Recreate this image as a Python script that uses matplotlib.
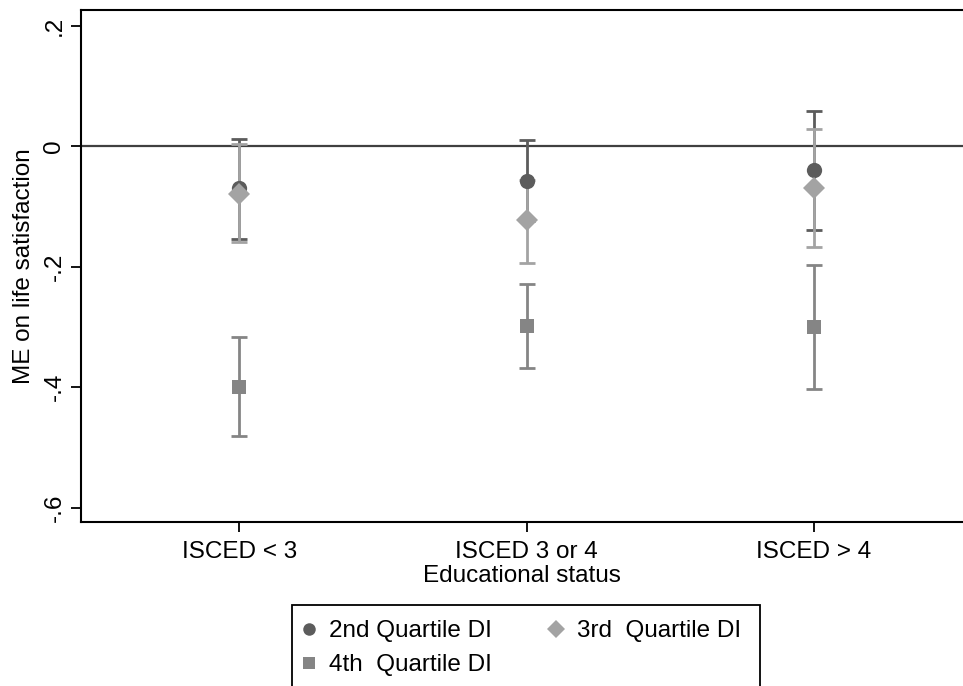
import numpy as np
import matplotlib.pyplot as plt
from matplotlib.patches import Rectangle
from matplotlib.lines import Line2D

plt.rcParams['font.family'] = ['Liberation Sans', 'DejaVu Sans']

groups = ['ISCED < 3', 'ISCED 3 or 4', 'ISCED > 4']
series = ['2nd Quartile DI', '3rd  Quartile DI', '4th  Quartile DI']

# marginal effects and 95% CI bounds per quartile
me_q2 = [-0.070, -0.058, -0.040]
lo_q2 = [-0.155, -0.124, -0.139]
hi_q2 = [0.011, 0.010, 0.058]

me_q3 = [-0.080, -0.123, -0.070]
lo_q3 = [-0.160, -0.195, -0.168]
hi_q3 = [0.003, -0.057, 0.028]

me_q4 = [-0.400, -0.299, -0.300]
lo_q4 = [-0.481, -0.369, -0.403]
hi_q4 = [-0.317, -0.229, -0.198]

yticks = [0.2, 0.0, -0.2, -0.4, -0.6]
ytick_labels = ['.2', '0', '-.2', '-.4', '-.6']

colors = ['#5c5c5c', '#a3a3a3', '#858585']
markers = ['o', 'D', 's']

fig = plt.figure(figsize=(9.63, 6.86), dpi=100)
ax = fig.add_axes([80.7 / 963, 1 - 521.7 / 686, 1 - 80.7 / 963, (521.7 - 10) / 686])

x = np.arange(1, len(groups) + 1)
data = [(me_q2, lo_q2, hi_q2), (me_q3, lo_q3, hi_q3), (me_q4, lo_q4, hi_q4)]

ax.axhline(0, color='#404040', lw=1.6, zorder=1)

# all CI bars first, markers on top
for (me, lo, hi), c in zip(data, colors):
    me, lo, hi = map(np.array, (me, lo, hi))
    ax.errorbar(x, me, yerr=[me - lo, hi - me], fmt='none', ecolor=c,
                elinewidth=2, capsize=6, capthick=2, zorder=2)

for (me, lo, hi), c, m, s in zip(data, colors, markers, [11, 11, 10.5]):
    ax.plot(x, me, linestyle='none', marker=m, color=c, markersize=s,
            markeredgewidth=0, zorder=3)

ax.set_xlim(1 - (239.5 - 80.7) / 287.3, 3 + (963 - 814) / 287.3)
ax.set_ylim(-(521.7 - 146) / 602.5, (146 - 10) / 602.5)

ax.set_xticks(x)
ax.set_xticklabels(groups, fontsize=17.5)
ax.set_yticks(yticks)
ax.set_yticklabels(ytick_labels, fontsize=17.5, rotation=90, va='center')
ax.tick_params(axis='both', length=7, width=1.3, color='black')
ax.tick_params(axis='x', pad=7)
ax.tick_params(axis='y', pad=4)

for sp in ['left', 'bottom', 'top']:
    ax.spines[sp].set_linewidth(1.5)
ax.spines['right'].set_visible(False)

ax.set_xlabel('Educational status', fontsize=17.5, labelpad=1)
ax.set_ylabel('ME on life satisfaction', fontsize=17.5, labelpad=6)

# legend box runs off the bottom of the figure
fig.patches.append(Rectangle((292 / 963, -0.05), (760 - 292) / 963, 0.05 + (686 - 605) / 686,
                             transform=fig.transFigure, fill=False, edgecolor='black', lw=1.3))
handles = [Line2D([], [], linestyle='none', marker=m, color=c, markersize=9, markeredgewidth=0)
           for m, c in zip(markers, colors)]
order = [0, 2, 1]
fig.legend([handles[i] for i in order], [series[i] for i in order], ncol=2, frameon=False,
           fontsize=17.5, loc='upper left', bbox_to_anchor=(300 / 963, 1 - 620 / 686),
           handlelength=0.7, handletextpad=0.5, columnspacing=2.3, labelspacing=0.5,
           borderpad=0, borderaxespad=0)

fig.savefig('out.png', dpi=100)
